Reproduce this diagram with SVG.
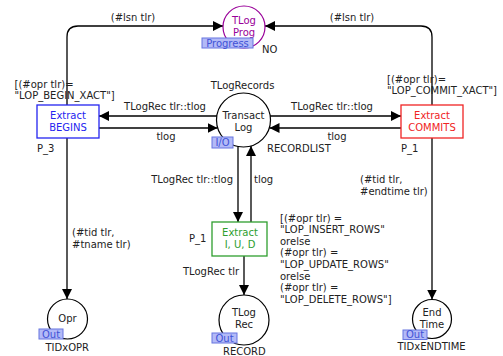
<svg xmlns="http://www.w3.org/2000/svg" width="503" height="356" viewBox="0 0 503 356">
<style>
text{font-family:"DejaVu Sans",Verdana,sans-serif;font-size:10px;fill:#222}
.c{text-anchor:middle}
.e{text-anchor:end}
.place{fill:#fff;stroke:#000;stroke-width:1.2}
.arc{fill:none;stroke:#000;stroke-width:1.3;marker-end:url(#ah)}
.tag{fill:#b3baf7;stroke:#6675e0;stroke-width:1}
.tagt{fill:#3f52d6;text-anchor:middle}
</style>
<defs>
<marker id="ah" markerUnits="userSpaceOnUse" markerWidth="11" markerHeight="10" refX="10" refY="5" orient="auto">
<path d="M0,0 L10,5 L0,10 z" fill="#000"/>
</marker>
</defs>
<g id="connectors">
<path class="arc" d="M67,105 V37 Q67,26 78,26 H223"/>
<path class="arc" d="M432,105 V37 Q432,26 421,26 H265"/>
<path class="arc" d="M217,116 H99"/>
<path class="arc" d="M99,128 H217.5"/>
<path class="arc" d="M270,116 H401"/>
<path class="arc" d="M401,128 H269.5"/>
<path class="arc" d="M238,146.5 V222"/>
<path class="arc" d="M251,222 V146"/>
<path class="arc" d="M244,256 V295"/>
<path class="arc" d="M67,138 V299"/>
<path class="arc" d="M432,138 V299.5"/>
<text class="c" x="133" y="21">(#lsn tlr)</text>
<text class="c" x="352" y="21">(#lsn tlr)</text>
<text class="c" x="165" y="110">TLogRec tlr::tlog</text>
<text class="c" x="166" y="140">tlog</text>
<text class="c" x="332" y="110">TLogRec tlr::tlog</text>
<text class="c" x="337" y="140">tlog</text>
<text class="e" x="233" y="183">TLogRec tlr::tlog</text>
<text x="254" y="183">tlog</text>
<text x="183" y="274.5">TLogRec tlr</text>
<text x="72" y="236">(#tid tlr,</text>
<text x="72" y="247.5">#tname tlr)</text>
<text x="360" y="183">(#tid tlr,</text>
<text x="360" y="194.5">#endtime tlr)</text>
</g>
<g id="TLogProg">
<circle cx="244" cy="27" r="21" fill="#fff" stroke="#990099" stroke-width="1.2"/>
<text class="c" x="244" y="23.5" style="fill:#990099">TLog</text>
<text class="c" x="244" y="36" style="fill:#990099">Prog</text>
<rect class="tag" x="202" y="38" width="51" height="10"/>
<text class="tagt" x="227.5" y="46.5">Progress</text>
<text x="262" y="53">NO</text>
</g>
<g id="TransactLog">
<circle class="place" cx="243.5" cy="120" r="27"/>
<text class="c" x="243.5" y="118.5">Transact</text>
<text class="c" x="243.5" y="130.5">Log</text>
<text class="c" x="242.5" y="89">TLogRecords</text>
<rect class="tag" x="212" y="137" width="21" height="11"/>
<text class="tagt" x="222.5" y="146">I/O</text>
<text x="267" y="151.5">RECORDLIST</text>
</g>
<g id="ExtractBEGINS">
<rect x="37" y="105" width="62" height="33" fill="#fff" stroke="#2424f0" stroke-width="1.3"/>
<text class="c" x="68" y="119" style="fill:#2424f0">Extract</text>
<text class="c" x="68" y="131" style="fill:#2424f0">BEGINS</text>
<text x="37" y="151.5">P_3</text>
<text x="14.5" y="87.5">[(#opr tlr)=</text>
<text x="14.5" y="99">"LOP_BEGIN_XACT"]</text>
</g>
<g id="ExtractCOMMITS">
<rect x="401" y="105" width="62" height="33" fill="#fff" stroke="#f02424" stroke-width="1.3"/>
<text class="c" x="432" y="119" style="fill:#f02424">Extract</text>
<text class="c" x="432" y="131" style="fill:#f02424">COMMITS</text>
<text x="401" y="151.5">P_1</text>
<text x="387" y="82.5">[(#opr tlr)=</text>
<text x="387" y="94">"LOP_COMMIT_XACT"]</text>
</g>
<g id="ExtractIUD">
<rect x="212" y="222" width="55" height="34" fill="#fff" stroke="#2e9e2e" stroke-width="1.3"/>
<text class="c" x="240" y="236" style="fill:#2e9e2e">Extract</text>
<text class="c" x="240" y="247.5" style="fill:#2e9e2e">I, U, D</text>
<text x="189" y="241.5">P_1</text>
<text x="280" y="221.5">[(#opr tlr) =</text>
<text x="280" y="233.1">"LOP_INSERT_ROWS"</text>
<text x="280" y="244.7">orelse</text>
<text x="280" y="256.3">(#opr tlr) =</text>
<text x="280" y="267.9">"LOP_UPDATE_ROWS"</text>
<text x="280" y="279.5">orelse</text>
<text x="280" y="291.1">(#opr tlr) =</text>
<text x="280" y="302.7">"LOP_DELETE_ROWS"]</text>
</g>
<g id="Opr">
<circle class="place" cx="67.5" cy="319" r="20"/>
<text class="c" x="67.5" y="321.5">Opr</text>
<rect class="tag" x="39" y="329" width="24" height="10"/>
<text class="tagt" x="51" y="337.5">Out</text>
<text x="45.5" y="351">TIDxOPR</text>
</g>
<g id="TLogRec">
<circle class="place" cx="244" cy="320" r="25"/>
<text class="c" x="244" y="316">TLog</text>
<text class="c" x="244" y="327.5">Rec</text>
<rect class="tag" x="212" y="333" width="25" height="10"/>
<text class="tagt" x="224.5" y="341.5">Out</text>
<text x="223" y="355">RECORD</text>
</g>
<g id="EndTime">
<circle class="place" cx="432" cy="319" r="19.5"/>
<text class="c" x="432" y="316">End</text>
<text class="c" x="432" y="327.5">Time</text>
<rect class="tag" x="403" y="330" width="24" height="9.5"/>
<text class="tagt" x="415" y="338">Out</text>
<text x="397.5" y="350">TIDxENDTIME</text>
</g>
</svg>
